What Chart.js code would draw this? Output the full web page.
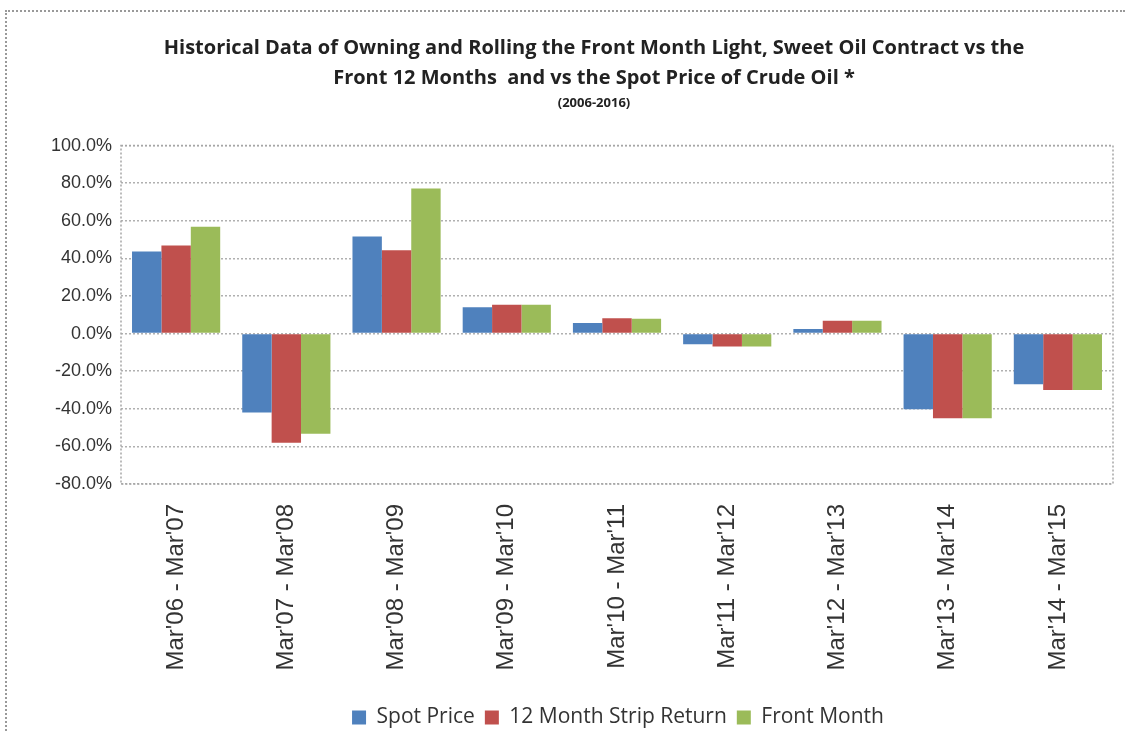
<!DOCTYPE html>
<html>
<head>
<meta charset="utf-8">
<script src="https://cdn.jsdelivr.net/npm/chart.js@4.4.1/dist/chart.umd.min.js"></script>
<style>
    html, body { margin: 0; padding: 0; background: #ffffff; overflow: hidden; }
    #wrap {
        position: absolute;
        left: 5px; top: 10px;
        width: 1120px; height: 721px;
        border-top: 2px dotted #999;
        border-left: 2px dotted #999;
        box-sizing: border-box;
        overflow: hidden;
    }
    #chart { display: block; }
</style>
</head>
<body>
<div id="wrap"><canvas id="chart" width="1118" height="726"></canvas></div>
<script>
const periods = ["Mar'06 - Mar'07", "Mar'07 - Mar'08", "Mar'08 - Mar'09", "Mar'09 - Mar'10",
    "Mar'10 - Mar'11", "Mar'11 - Mar'12", "Mar'12 - Mar'13", "Mar'13 - Mar'14", "Mar'14 - Mar'15"];
const spotPrice = [43.7, -42.0, 51.7, 14.0, 5.6, -5.6, 2.5, -40.2, -27.0];
const stripReturn = [46.9, -58.0, 44.4, 15.3, 8.2, -6.8, 6.8, -45.0, -30.0];
const frontMonth = [56.9, -53.3, 77.2, 15.3, 7.9, -6.8, 6.8, -45.0, -30.0];
const seriesNames = ['Spot Price', '12 Month Strip Return', 'Front Month'];
const seriesColors = ['#4f81bd', '#c0504d', '#9bbb59'];
const yMin = -80, yMax = 100, yStep = 20;

const titleLines = ['Historical Data of Owning and Rolling the Front Month Light, Sweet Oil Contract vs the',
    'Front 12 Months  and vs the Spot Price of Crude Oil *'];
const subtitleText = '(2006-2016)';

// grey frame round the plot area
const plotFrame = {
    id: 'plotFrame',
    afterDraw(chart) {
        const a = chart.chartArea;
        const ctx = chart.ctx;
        ctx.save();
        ctx.strokeStyle = '#a6a6a6';
        ctx.lineWidth = 1.5;
        ctx.setLineDash([2, 2]);
        ctx.strokeRect(a.left, a.top, a.right - a.left, a.bottom - a.top);
        ctx.restore();
    }
};

// the original has its title a bit right of centre and legend under the plot
const nudgeBoxes = {
    id: 'nudgeBoxes',
    afterLayout(chart) {
        chart.boxes.forEach(box => {
            if (box.position === 'top' && box.options && box.options.text !== undefined) {
                box.left += 32;
                box.right += 32;
            }
            if (box === chart.legend) {
                box.left += 56;
                box.right += 56;
            }
        });
    }
};

const values = [spotPrice, stripReturn, frontMonth];
const textFont = "'Open Sans', sans-serif";

new Chart(document.getElementById('chart'), {
    type: 'bar',
    data: {
        labels: periods,
        datasets: seriesNames.map((name, i) => ({
            label: name,
            data: values[i],
            backgroundColor: seriesColors[i],
            borderWidth: 0,
            barPercentage: 1.0,
            categoryPercentage: 0.8
        }))
    },
    options: {
        responsive: false,
        animation: false,
        layout: { padding: { left: 4, right: 12, top: 21, bottom: 0 } },
        plugins: {
            title: {
                display: true,
                text: titleLines,
                color: '#222',
                font: { family: textFont, size: 20, weight: 'bold', lineHeight: 1.5 },
                padding: { top: 0, bottom: 0 }
            },
            subtitle: {
                display: true,
                text: subtitleText,
                color: '#222',
                font: { family: textFont, size: 13, weight: 'bold', lineHeight: 1.2 },
                padding: { top: 2, bottom: 35 }
            },
            legend: {
                position: 'bottom',
                labels: {
                    color: '#333',
                    boxWidth: 14,
                    boxHeight: 14,
                    padding: 10,
                    font: { family: textFont, size: 21 }
                }
            },
            tooltip: { enabled: false }
        },
        scales: {
            x: {
                afterFit(scale) { scale.height = 213; },
                grid: { display: false },
                border: { display: false },
                ticks: {
                    minRotation: 90,
                    maxRotation: 90,
                    color: '#333',
                    padding: 12,
                    font: { family: "'Liberation Sans', Arial, sans-serif", size: 24 }
                }
            },
            y: {
                min: yMin,
                max: yMax,
                afterFit(scale) { scale.width = 110; },
                grid: {
                    color: '#b0b0b0',
                    lineWidth: 1.5,
                    drawTicks: false
                },
                border: { display: false, dash: [2, 2] },
                ticks: {
                    stepSize: yStep,
                    color: '#333',
                    padding: 9,
                    font: { family: "'Liberation Sans', Arial, sans-serif", size: 18 },
                    callback: v => v.toFixed(1) + '%'
                }
            }
        }
    },
    plugins: [plotFrame, nudgeBoxes]
});
</script>
</body>
</html>
